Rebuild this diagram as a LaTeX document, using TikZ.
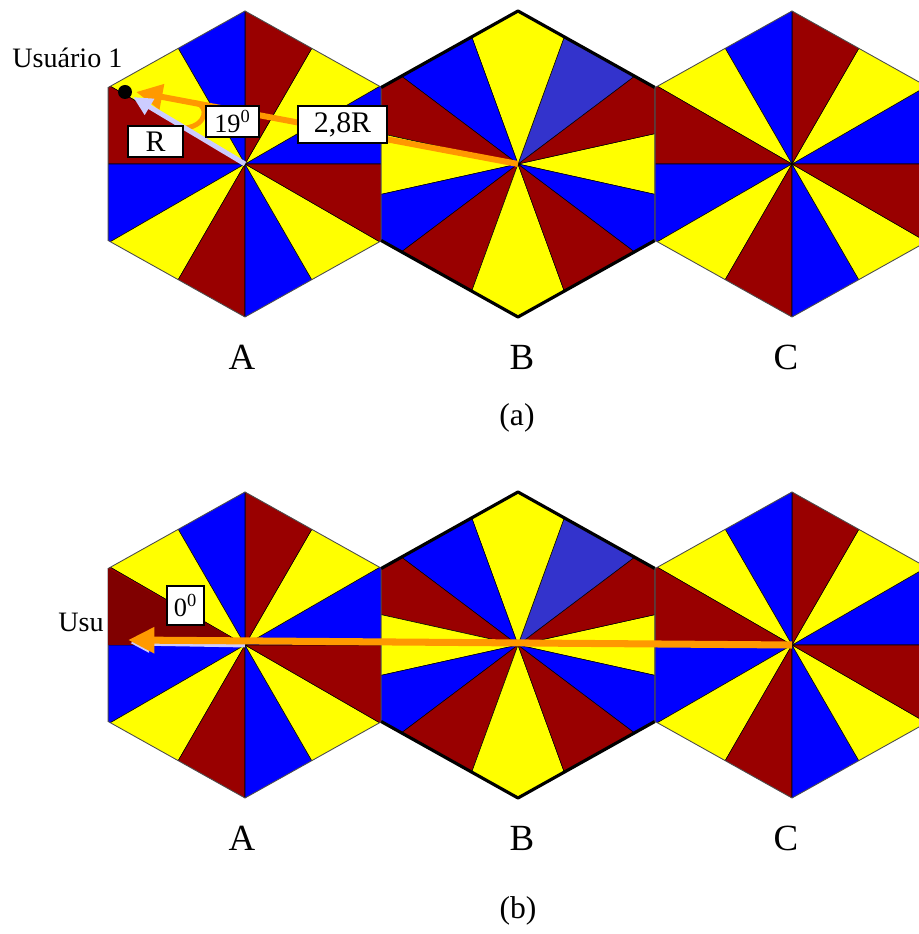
\documentclass[tikz,border=0pt]{standalone}
\usepackage{fontspec}
\setmainfont{Liberation Serif}
\usetikzlibrary{arrows.meta}
\definecolor{hexblue}{HTML}{0000FF}
\definecolor{hexyellow}{HTML}{FFFF00}
\definecolor{hexred}{HTML}{990000}
\definecolor{hexlight}{HTML}{3333CC}
\definecolor{hexdark}{HTML}{800000}
\definecolor{rayorange}{HTML}{FF9900}
\definecolor{raylavender}{HTML}{CCCCFF}

\begin{document}
\begin{tikzpicture}[
    x=0.02cm,
    y=0.02cm,
    sector_style/.style={draw=black, line width=0.3pt},
    hex_border/.style={draw=black!70, line width=0.5pt},
    b_border/.style={draw=black, line width=1.8pt, line join=round},
    hex_label/.style={font=\fontsize{21pt}{25pt}\selectfont},
    panel_label/.style={font=\fontsize{18pt}{22pt}\selectfont},
    user_text/.style={font=\fontsize{16pt}{19pt}\selectfont, inner sep=0pt},
    value_box/.style={draw=black, fill=white, line width=0.8pt, inner sep=0pt, font=\fontsize{15pt}{18pt}\selectfont},
    user_dot/.style={circle, fill=black, minimum size=0.28cm, inner sep=0pt},
    orange_arrow/.style={draw=rayorange, line width=3.4pt, -{Triangle[length=15pt, width=14pt]}},
    r_arrow/.style={draw=raylavender, line width=2.8pt, -{Triangle[length=11pt, width=10pt]}},
    angle_curl/.style={draw=rayorange, line width=2.8pt, line cap=round}
]
  \useasboundingbox (0,0) rectangle (919,934);
  \clip (0,0) rectangle (919,934);
  % Hexagonal cells split into sectors, both panels
  \foreach \yc/\panel in {770/a, 289/b} {
    \foreach \xc/\lx/\hex in {245/242/A, 518/522/B, 792/786/C} {
      \coordinate (\hex-\panel) at (\xc,\yc);
      \begin{scope}[shift={(\xc,\yc)}]
        \clip (30:158 and 153) \foreach \v in {90,150,...,330} { -- (\v:158 and 153) } -- cycle;
        \if\hex B
          \foreach \a/\b/\col in {-12.5/12.5/hexyellow, 12.5/37/hexred, 37/70/hexlight, 70/110/hexyellow,
                                  110/143/hexblue, 143/167.5/hexred, 167.5/192.5/hexyellow, 192.5/217/hexblue,
                                  217/250/hexred, 250/290/hexyellow, 290/323/hexred, 323/347.5/hexblue}
            \filldraw[sector_style, fill=\col] (0,0) -- (\a:400) -- (\b:400) -- cycle;
        \else
          \foreach \a/\col in {0/hexblue, 30/hexyellow, 60/hexred, 90/hexblue, 120/hexyellow, 150/hexred,
                               180/hexblue, 210/hexyellow, 240/hexred, 270/hexblue, 300/hexyellow, 330/hexred}
            \filldraw[sector_style, fill=\col] (0,0) -- (\a:400) -- (\a+30:400) -- cycle;
        \fi
      \end{scope}
      \draw[hex_border, shift={(\xc,\yc)}] (30:158 and 153) \foreach \v in {90,150,...,330} { -- (\v:158 and 153) } -- cycle;
      \if\hex B
        \draw[b_border, shift={(\xc,\yc)}] (150:158 and 153) -- (90:158 and 153) -- (30:158 and 153);
        \draw[b_border, shift={(\xc,\yc)}] (210:158 and 153) -- (270:158 and 153) -- (330:158 and 153);
      \fi
      \node[hex_label] (lab-\hex-\panel) at (\lx,\yc-193) {\hex};
    }
  }
  \node[panel_label] (panel-a) at (517,516) {(a)};
  \node[panel_label] (panel-b) at (518,23) {(b)};

  % Panel (a): user on the cell corner
  \coordinate (tipO-a) at (136,842);
  \coordinate (tipR-a) at (133,837);
  \coordinate (curl-start) at (196,831);
  \coordinate (curl-end) at (186,806);
  \draw[orange_arrow] (B-a) -- (tipO-a);
  \draw[angle_curl] (curl-start) .. controls +(13,-3) and +(21,3) .. (curl-end);
  \draw[r_arrow] (A-a) -- (tipR-a);
  \node[value_box, minimum width=1.06cm, minimum height=0.62cm] (angle19) at (232.5,812.5) {19\textsuperscript{0}};
  \node[value_box, minimum width=1.78cm, minimum height=0.74cm, font=\fontsize{17pt}{20pt}\selectfont] (dist28) at (342.5,809.5) {2,8R};
  \node[value_box, minimum width=1.10cm, minimum height=0.62cm, font=\fontsize{17pt}{20pt}\selectfont] (distR) at (155.5,792.5) {R};
  \node[user_dot] (user1) at (125,842) {};
  \node[user_text, anchor=base west] (user1-text) at (12,866) {Usuário 1};

  % Panel (b): user on the cell edge
  \coordinate (tipO-b) at (128,294);
  \coordinate (tipR-b) at (130,291);
  \fill[hexdark] (A-b) -- +(150:158 and 153) -- +(180:136.8) -- cycle;
  \draw[r_arrow] (A-b) -- (tipR-b);
  \draw[orange_arrow, line width=4pt] (C-b) -- (tipO-b);
  \node[value_box, minimum width=0.74cm, minimum height=0.78cm] (angle0) at (185.5,328.5) {0\textsuperscript{0}};
  \node[user_text, anchor=base west] (user2-text) at (58,302) {Usu};
\end{tikzpicture}
\end{document}
